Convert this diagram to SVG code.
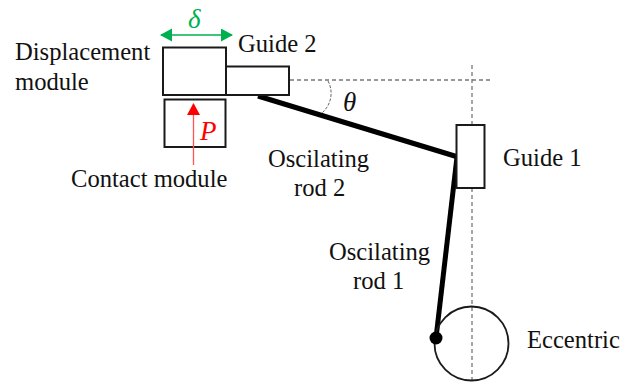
<svg xmlns="http://www.w3.org/2000/svg" width="622" height="392" viewBox="0 0 622 392">
<style>
text{font-family:"Liberation Serif","Times New Roman",serif;font-size:24.600px;fill:#111}
.box{fill:#fff;stroke:#1a1a1a;stroke-width:2}
.dash{fill:none;stroke:#777;stroke-width:1.3;stroke-dasharray:4 3}
.rod{fill:none;stroke:#000;stroke-width:5}
text.m{font-style:italic;font-size:27px}
</style>
<defs>
<marker id="g" markerWidth="12" markerHeight="14" refX="11" refY="6.500" orient="auto-start-reverse" markerUnits="userSpaceOnUse"><path d="M0 0L12 6.500L0 13Z" fill="#00b050"/></marker>
<marker id="r" markerWidth="13" markerHeight="13" refX="11" refY="6.500" orient="auto" markerUnits="userSpaceOnUse"><path d="M0 0L12 6.500L0 13Z" fill="#f00"/></marker>
</defs>
<g id="connectors">
<path class="dash" d="M290 80H490"/>
<path class="dash" d="M472 65V125M472 188V384"/>
<path d="M328 81C334 92 331 105 322 113" fill="none" stroke="#666" stroke-width="1" stroke-dasharray="3 1.500"/>
<path class="rod" d="M258 96L458 157"/>
<path class="rod" d="M457 157L436 338"/>
<path d="M161 35H232" stroke="#00b050" stroke-width="1.500" fill="none" marker-start="url(#g)" marker-end="url(#g)"/>
</g>
<g id="contact-module"><rect class="box" x="164.500" y="99.500" width="61" height="47.500"/></g>
<g id="displacement-module"><rect class="box" x="163" y="47.500" width="63" height="47.500"/></g>
<g id="guide-2"><rect class="box" x="226" y="66.500" width="63" height="28.500"/></g>
<g id="guide-1"><rect class="box" x="456.500" y="125" width="28" height="63"/></g>
<g id="eccentric"><circle cx="471.500" cy="343.500" r="37" fill="none" stroke="#1a1a1a" stroke-width="1.800"/><circle cx="436" cy="338" r="6.500" fill="#000"/></g>
<g id="force"><path d="M193.500 165V104" stroke="#f55" stroke-width="1.300" fill="none" marker-end="url(#r)"/></g>
<g id="labels">
<text x="15" y="60">Displacement</text>
<text x="15" y="90">module</text>
<text x="238" y="52">Guide 2</text>
<text x="71" y="187">Contact module</text>
<text x="268" y="167">Oscilating</text>
<text x="294" y="196">rod 2</text>
<text x="503" y="166">Guide 1</text>
<text x="329" y="260">Oscilating</text>
<text x="353" y="289">rod 1</text>
<text x="527" y="348">Eccentric</text>
<text class="m" x="188" y="28" style="fill:#00b050">δ</text>
<text class="m" x="343" y="111">θ</text>
<text class="m" x="200" y="140" style="fill:#f00">P</text>
</g>
</svg>
